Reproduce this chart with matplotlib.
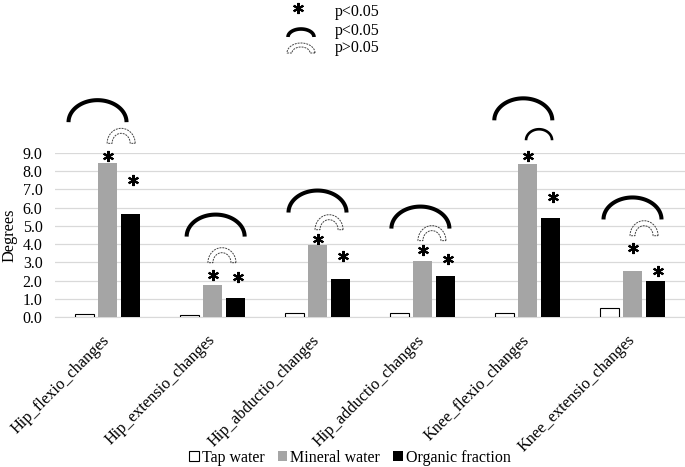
import numpy as np
import matplotlib
matplotlib.use("Agg")
import matplotlib.pyplot as plt
import matplotlib.transforms as mtransforms

plt.rcParams['font.family'] = ['Liberation Serif', 'DejaVu Serif']

categories = ["Hip_flexio_changes", "Hip_extensio_changes", "Hip_abductio_changes",
              "Hip_adductio_changes", "Knee_flexio_changes", "Knee_extensio_changes"]
tap_water = [0.15, 0.13, 0.24, 0.24, 0.24, 0.48]
mineral_water = [8.43, 1.75, 3.93, 3.10, 8.39, 2.52]
organic_fraction = [5.64, 1.06, 2.08, 2.26, 5.42, 2.00]
yticks = [0.0, 1.0, 2.0, 3.0, 4.0, 5.0, 6.0, 7.0, 8.0, 9.0]

# significance marks (x shift in category units, heights in degrees)
big_arc_shift = [-0.095, 0.03, 0.0, -0.02, -0.04, 0.0]
big_arc_top = [11.90, 5.62, 6.94, 6.06, 12.0, 6.56]
small_arc_shift = [0.13, 0.09, 0.11, 0.09, 0.11, 0.11]
small_arc_base = [9.53, 2.98, 4.79, 4.19, 9.70, 4.46]
small_arc_sig = [False, False, False, False, True, False]
star_mineral = [8.83, 2.31, 4.30, 3.65, 8.83, 3.78]
star_organic = [7.51, 2.19, 3.36, 3.18, 6.60, 2.50]

W, H = 685, 467
fig = plt.figure(figsize=(W / 100, H / 100), dpi=100)
ax = fig.add_axes([55 / W, 150 / H, 630 / W, 164 / H])

x = np.arange(len(categories))
bw = 0.181
off = 0.222
ax.bar(x - off, tap_water, bw, color='white', edgecolor='black', linewidth=0.8, label='Tap water', zorder=3)
ax.bar(x, mineral_water, bw, color='#A5A5A5', label='Mineral water', zorder=3)
ax.bar(x + off, organic_fraction, bw, color='black', label='Organic fraction', zorder=3)

ax.set_xlim(-0.5, len(categories) - 0.5)
ax.set_ylim(0, 9)
ax.set_yticks(yticks)
ax.set_yticklabels([f"{v:.1f}" for v in yticks], fontsize=11.5)
ax.yaxis.grid(True, color='#D9D9D9', linewidth=0.9, zorder=0)
ax.set_axisbelow(True)
for s in ['top', 'right', 'left']:
    ax.spines[s].set_visible(False)
ax.spines['bottom'].set_color('#D9D9D9')
ax.tick_params(axis='both', length=0)
ax.tick_params(axis='y', pad=9)
ax.set_xticks(x)
ax.set_xticklabels(categories, rotation=45, ha='right', va='center',
                   rotation_mode='anchor', fontsize=11.8)
ax.tick_params(axis='x', pad=15)

fig.text(9 / W, 1 - 235 / H, 'Degrees', rotation=90, ha='center', va='center', fontsize=11.8)


def at_data(xd, yd):
    return mtransforms.IdentityTransform() + mtransforms.ScaledTranslation(xd, yd, ax.transData)


def at_fig(px, py):
    return mtransforms.IdentityTransform() + mtransforms.ScaledTranslation(px / W, 1 - py / H, fig.transFigure)


t = np.linspace(0, np.pi, 80)


def solid_arc(tr, rx, ry, lw, dy=0.0):
    ax.plot(rx * np.cos(t), ry * np.sin(t) + dy, color='black', lw=lw,
            solid_capstyle='butt', transform=tr, clip_on=False)


def block_arc(tr, rx, ry, rx2, ry2):
    xs = np.concatenate([rx * np.cos(t), rx2 * np.cos(t[::-1])])
    ys = np.concatenate([ry * np.sin(t), ry2 * np.sin(t[::-1])])
    poly = plt.Polygon(np.column_stack([xs, ys]), closed=True, fill=False,
                       edgecolor='#444444', linewidth=0.7, linestyle=(0, (2, 1)),
                       transform=tr, clip_on=False)
    ax.add_patch(poly)


def star(tr):
    ax.plot([0], [0], marker=(6, 2, 0), markersize=8, mew=1.5, color='black',
            transform=tr, clip_on=False)


for i in range(len(categories)):
    # big arc: top of centre line at big_arc_top
    solid_arc(at_data(i + big_arc_shift[i], big_arc_top[i]), 29, 22, 2.9, dy=-22)
    if small_arc_sig[i]:
        solid_arc(at_data(i + small_arc_shift[i], small_arc_base[i]), 13, 11, 1.9)
    else:
        block_arc(at_data(i + small_arc_shift[i], small_arc_base[i]), 14, 15, 9, 10)
    star(at_data(i, star_mineral[i]))
    star(at_data(i + off + 0.02, star_organic[i]))

# key at top
star(at_fig(298, 8))
solid_arc(at_fig(301, 37), 13, 8, 2.6)
block_arc(at_fig(301, 53), 14, 10, 9, 6)
for yy, txt in [(12, 'p<0.05'), (31, 'p<0.05'), (48, 'p>0.05')]:
    fig.text(335 / W, 1 - yy / H, txt, ha='left', va='center', fontsize=11.5)

fig.legend(loc='center', bbox_to_anchor=(0.511, 1 - 458 / H), ncol=3, frameon=False,
           fontsize=11.5, handlelength=0.6, handleheight=0.6, handletextpad=0.2,
           columnspacing=0.8, borderaxespad=0)

fig.savefig('out.png', dpi=100)
